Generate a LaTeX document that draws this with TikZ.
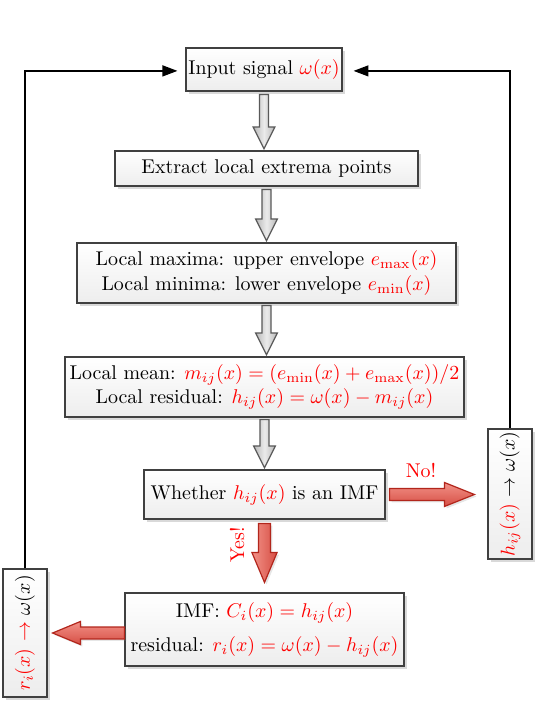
\documentclass[tikz,border=0pt]{standalone}
\usetikzlibrary{shadows,calc,arrows.meta}
\definecolor{rtop}{RGB}{242,145,135}
\definecolor{rbot}{RGB}{214,78,68}
\definecolor{rline}{RGB}{178,38,28}
\newcommand\fatdown[6]{%
\path[#1] let \p1=(#2), \p2=(#3) in
 (\x1-#4,\y1) -- (\x1-#4,\y2+#6) -- (\x1-#5,\y2+#6) -- (\x1,\y2) -- (\x1+#5,\y2+#6) -- (\x1+#4,\y2+#6) -- (\x1+#4,\y1) -- cycle;}
\newcommand\fatright[6]{%
\path[#1] let \p1=(#2), \p2=(#3) in
 (\x1,\y1-#4) -- (\x2-#6,\y1-#4) -- (\x2-#6,\y1-#5) -- (\x2,\y1) -- (\x2-#6,\y1+#5) -- (\x2-#6,\y1+#4) -- (\x1,\y1+#4) -- cycle;}
\newcommand\fatleft[6]{%
\path[#1] let \p1=(#2), \p2=(#3) in
 (\x1,\y1-#4) -- (\x2+#6,\y1-#4) -- (\x2+#6,\y1-#5) -- (\x2,\y1) -- (\x2+#6,\y1+#5) -- (\x2+#6,\y1+#4) -- (\x1,\y1+#4) -- cycle;}
\begin{document}
\begin{tikzpicture}[x=0.502pt,y=-0.502pt,
 box/.style={draw=black!75, line width=0.6pt, top color=white, bottom color=black!7,
   drop shadow={opacity=0.3, shadow xshift=1.3pt, shadow yshift=-1.3pt}, align=center, inner sep=1pt},
 sz/.style 2 args={minimum width=#1*0.502pt, minimum height=#2*0.502pt},
 grayar/.style={draw=black!65, line width=0.6pt, left color=black!28, right color=black!28, middle color=black!8},
 redh/.style={draw=rline, line width=0.6pt, top color=rtop, bottom color=rbot,
   drop shadow={opacity=0.2, shadow xshift=1pt, shadow yshift=-1pt}},
 redv/.style={draw=rline, line width=0.6pt, left color=rtop, right color=rbot,
   drop shadow={opacity=0.2, shadow xshift=1pt, shadow yshift=-1pt}},
 conn/.style={draw=black, line width=0.7pt, -{Triangle[length=7.5pt,width=5.5pt]}}
]
\useasboundingbox (0,0) rectangle (540,706);

\node[box, sz={156}{43}] (in) at (264,69.5) {Input signal \textcolor{red}{$\omega(x)$}};
\node[box, sz={303}{35}] (ext) at (266.5,168.5) {Extract local extrema points};
\node[box, sz={379}{60}] (max) at (266.5,273) {Local maxima: upper envelope \textcolor{red}{$e_{\max}(x)$}\\[1pt] Local minima: lower envelope \textcolor{red}{$e_{\min}(x)$}};
\node[box, sz={399}{60}] (mean) at (264.5,387) {Local mean: \textcolor{red}{$m_{ij}(x)=(e_{\min}(x)+e_{\max}(x))/2$}\\ Local residual: \textcolor{red}{$h_{ij}(x)=\omega(x)-m_{ij}(x)$}};
\node[box, sz={241}{49}] (wh) at (264.5,494.5) {Whether \textcolor{red}{$h_{ij}(x)$} is an IMF};
\node[box, sz={279}{73}] (imf) at (264.5,629.5) {IMF: \textcolor{red}{$C_i(x)=h_{ij}(x)$}\\[5pt] residual: \textcolor{red}{$r_i(x)=\omega(x)-h_{ij}(x)$}};
\node[box, rotate=90, sz={130}{44}] (rv) at (510,494) {\textcolor{red}{$h_{ij}(x)$} $\rightarrow\omega(x)$};
\node[box, rotate=90, sz={128}{44}] (lv) at (25,633) {\textcolor{red}{$r_i(x)$} \textcolor{red}{$\rightarrow$} $\omega(x)$};

\fatdown{grayar}{[yshift=-1.5pt]in.south}{[yshift=0.8pt]ext.north}{2.3pt}{5.5pt}{11pt}
\fatdown{grayar}{[yshift=-1.5pt]ext.south}{[yshift=0.8pt]max.north}{2.3pt}{5.5pt}{11pt}
\fatdown{grayar}{[yshift=-1pt]max.south}{[yshift=0.8pt]mean.north}{2.3pt}{5.5pt}{11pt}
\fatdown{grayar}{[yshift=-1pt]mean.south}{[yshift=0.8pt]wh.north}{2.3pt}{5.5pt}{11pt}

\fatright{redh}{[xshift=2pt]wh.east}{[xshift=-6.5pt]rv.north}{3pt}{6pt}{15pt}
\fatdown{redv}{[yshift=-2pt]wh.south}{[yshift=5pt]imf.north}{3pt}{6.3pt}{15pt}
\fatleft{redh}{imf.west |- lv.center}{[xshift=2.5pt]lv.south}{3pt}{5.8pt}{14pt}

\node[text=red] (no) at (421,470) {No!};
\node[text=red, rotate=90] (yes) at (237,545) {Yes!};

\draw[conn] (lv.east) |- ([xshift=-4pt,yshift=-0.7pt]in.west);
\draw[conn] (rv.east) |- ([xshift=5.5pt,yshift=-0.7pt]in.east);
\end{tikzpicture}
\end{document}
